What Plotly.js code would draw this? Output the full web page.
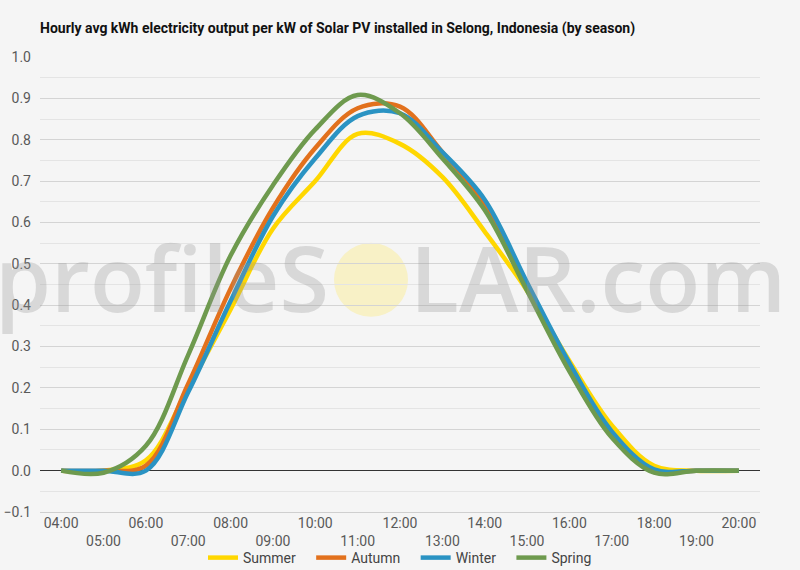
<!DOCTYPE html>
<html>
<head>
<meta charset="utf-8">
<script src="https://cdn.plot.ly/plotly-3.0.1.min.js"></script>
<style>
  html, body { margin: 0; padding: 0; background: #f5f5f5; }
  #chart { width: 800px; height: 570px; }
</style>
</head>
<body>
<div id="chart"></div>
<script>
// ---- data ----
const hours = [4, 5, 6, 7, 8, 9, 10, 11, 12, 13, 14, 15, 16, 17, 18, 19, 20];
const hourLabels = ['04:00','05:00','06:00','07:00','08:00','09:00','10:00','11:00','12:00',
                    '13:00','14:00','15:00','16:00','17:00','18:00','19:00','20:00'];
const summer = [0, 0, 0.025, 0.20, 0.39, 0.585, 0.70, 0.814, 0.79, 0.71, 0.578, 0.435, 0.265, 0.11, 0.012, 0, 0];
const autumn = [0, 0, 0.012, 0.21, 0.44, 0.635, 0.78, 0.876, 0.88, 0.77, 0.645, 0.445, 0.25, 0.085, 0, 0, 0];
const winter = [0, 0, 0.0, 0.19, 0.41, 0.615, 0.755, 0.857, 0.864, 0.77, 0.655, 0.455, 0.26, 0.095, 0.003, 0, 0];
const spring = [0, -0.005, 0.06, 0.28, 0.52, 0.69, 0.825, 0.908, 0.864, 0.755, 0.63, 0.435, 0.24, 0.08, -0.005, 0, 0];
const seriesNames = ['Summer', 'Autumn', 'Winter', 'Spring'];
const seriesColors = ['#ffd700', '#e2711d', '#2a93c3', '#6e9a4e'];
const seriesValues = [summer, autumn, winter, spring];
const titleText = 'Hourly avg kWh electricity output per kW of Solar PV installed in Selong, Indonesia (by season)';

// ---- traces ----
const pad = '\u00a0\u00a0\u00a0';
const traces = seriesValues.map((vals, i) => ({
  type: 'scatter',
  mode: 'lines',
  name: seriesNames[i] + (i < seriesNames.length - 1 ? pad : ''),
  x: hours,
  y: vals,
  line: { color: seriesColors[i], width: 4.5, shape: 'spline', smoothing: 1 },
  hoverinfo: 'x+y+name'
}));

// staggered tick labels: even hours top row, odd hours second row
const tickText = hourLabels.map((t, i) => (i % 2 === 0 ? t : '<br>' + t));

const font = 'Roboto, "Liberation Sans", Arial, sans-serif';
const wmY = (512.4 - 277) / 455.4;

const layout = {
  width: 800,
  height: 570,
  paper_bgcolor: '#f5f5f5',
  plot_bgcolor: 'rgba(0,0,0,0)',
  margin: { l: 40, r: 40, t: 57, b: 58, pad: 0 },
  font: { family: font, size: 14, color: '#595959' },
  title: {
    text: '<b>' + titleText + '</b>',
    font: { family: font, size: 14, color: '#111111' },
    xref: 'container', x: 40 / 800, xanchor: 'left',
    yref: 'container', y: 1 - 28 / 570, yanchor: 'middle'
  },
  xaxis: {
    range: [3.5, 20.5],
    tickmode: 'array',
    tickvals: hours,
    ticktext: tickText,
    showgrid: false,
    zeroline: false,
    showline: true,
    linecolor: '#cfcfcf',
    linewidth: 1,
    ticks: '',
    ticklabelstandoff: -2,
    tickfont: { family: font, size: 14, color: '#595959' },
    fixedrange: true
  },
  yaxis: {
    range: [-0.1, 1.0],
    dtick: 0.1,
    tick0: 0,
    tickformat: '.1f',
    showgrid: true,
    gridcolor: '#d4d4d4',
    gridwidth: 1,
    minor: { dtick: 0.05, showgrid: true, gridcolor: '#e4e4e4', gridwidth: 1 },
    zeroline: true,
    zerolinecolor: '#333333',
    zerolinewidth: 1,
    showline: false,
    ticks: '',
    ticklabelstandoff: 8,
    tickfont: { family: font, size: 14, color: '#595959' },
    fixedrange: true
  },
  showlegend: true,
  legend: {
    orientation: 'h',
    xref: 'container', x: 0.5, xanchor: 'center',
    yref: 'container', y: 12 / 570, yanchor: 'middle',
    font: { family: font, size: 14, color: '#444444' },
    bgcolor: 'rgba(0,0,0,0)',
    itemwidth: 30,
    tracegroupgap: 0
  },
  shapes: [
    {
      type: 'circle', layer: 'below',
      xref: 'paper', yref: 'paper',
      x0: (334 - 40) / 720, x1: (408 - 40) / 720,
      y0: (512.4 - 317) / 455.4, y1: (512.4 - 243) / 455.4,
      fillcolor: '#f8f1c6', line: { width: 0 }
    }
  ],
  annotations: [
    {
      text: 'profileS', showarrow: false,
      xref: 'paper', yref: 'paper',
      x: (331 - 40) / 720, xanchor: 'right',
      y: wmY, yanchor: 'middle',
      font: { family: '"Open Sans", sans-serif', size: 90, color: 'rgba(150,150,150,0.3)', weight: 600 }
    },
    {
      text: 'LAR.com', showarrow: false,
      xref: 'paper', yref: 'paper',
      x: (408 - 40) / 720, xanchor: 'left',
      y: wmY, yanchor: 'middle',
      font: { family: '"Open Sans", sans-serif', size: 90, color: 'rgba(150,150,150,0.3)', weight: 600 }
    }
  ]
};

Plotly.newPlot('chart', traces, layout, { staticPlot: true, displayModeBar: false });
</script>
</body>
</html>
